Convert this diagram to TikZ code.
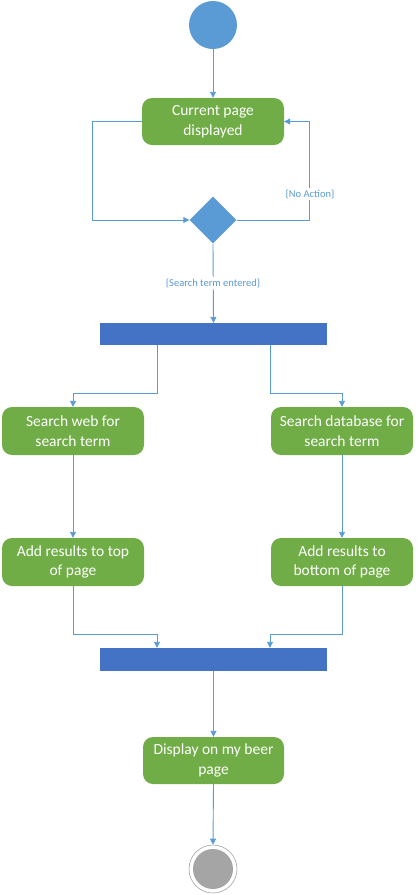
\documentclass[tikz,border=0pt]{standalone}
\usepackage{fontspec}
\setmainfont{Carlito}
\usetikzlibrary{shapes.geometric,arrows.meta}
\definecolor{actgreen}{HTML}{70AD47}
\definecolor{barblue}{HTML}{4472C4}
\definecolor{lightblue}{HTML}{5B9BD5}
\definecolor{endgray}{HTML}{A5A5A5}
\begin{document}
\begin{tikzpicture}[x=1pt,y=-1pt,
  actbox/.style={rectangle,rounded corners=10pt,fill=actgreen,draw=none,text=white,
    minimum width=142pt,minimum height=47pt,inner sep=0pt,align=center,
    font=\fontsize{15.5pt}{19.5pt}\selectfont},
  barbox/.style={rectangle,fill=barblue,draw=none,minimum width=227pt,minimum height=22pt,inner sep=0pt},
  conn/.style={draw=lightblue,line width=0.9pt,-{Triangle[width=6pt,length=6pt]}},
  guard/.style={fill=white,text=lightblue,inner sep=1pt,font=\fontsize{10.5pt}{12pt}\selectfont}]
\useasboundingbox (0,0) rectangle (419,895);
\node[circle,fill=lightblue,minimum size=48pt,inner sep=0pt] (start) at (213,25) {};
\node[actbox] (cur) at (213,121.5) {Current page\\displayed};
\node[diamond,fill=lightblue,minimum size=47pt,inner sep=0pt] (dec) at (213,220) {};
\node[barbox] (bar1) at (213.5,334) {};
\node[actbox,minimum height=48pt] (sw) at (73,431) {Search web for\\search term};
\node[actbox,minimum height=48pt] (sd) at (342,431) {Search database for\\search term};
\node[actbox,minimum height=48pt] (at) at (73,562) {Add results to top\\of page};
\node[actbox,minimum height=48pt] (ab) at (342,562) {Add results to\\bottom of page};
\node[barbox,minimum height=23pt] (bar2) at (213.5,659.5) {};
\node[actbox,minimum width=141pt] (disp) at (213.5,760.5) {Display on my beer\\page};
\node[circle,draw=endgray,line width=0.6pt,fill=white,minimum size=48pt,inner sep=0pt] (end) at (213,869) {};
\node[circle,fill=endgray,minimum size=40pt,inner sep=0pt] (endin) at (end.center) {};

\draw[conn] (start.south) -- (cur.north);
\draw[conn] (cur.west) -- ++(-49,0) |- (dec.west);
\draw[conn] (dec.east) -- ++(73,0) |- (cur.east);
\node[guard] (lna) at (310,194) {\{No Action\}};
\draw[conn] (dec.south) -- (bar1.north);
\node[guard] (lst) at (213,283) {\{Search term entered\}};
\draw[conn] ([xshift=-56.5pt]bar1.south) -- ++(0,48) -| (sw.north);
\draw[conn] ([xshift=56.5pt]bar1.south) -- ++(0,48) -| (sd.north);
\draw[conn] (sw.south) -- (at.north);
\draw[conn] (sd.south) -- (ab.north);
\draw[conn] (at.south) -- ++(0,48) -| ([xshift=-56.5pt]bar2.north);
\draw[conn] (ab.south) -- ++(0,48) -| ([xshift=56.5pt]bar2.north);
\draw[conn] (bar2.south) -- (disp.north);
\draw[conn] (disp.south) -- (end.north);
\end{tikzpicture}
\end{document}
